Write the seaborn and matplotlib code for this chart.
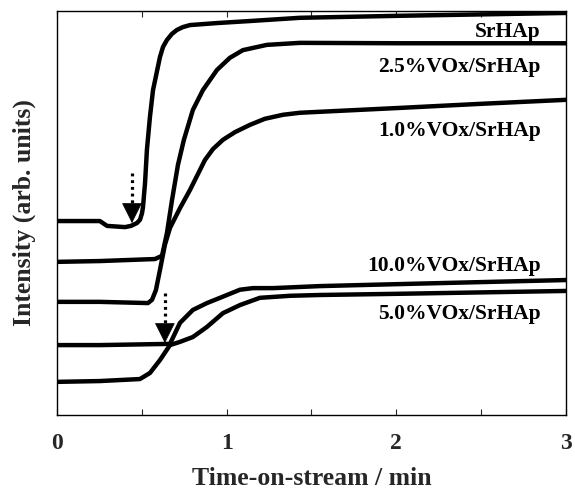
import numpy as np
import pandas as pd
import matplotlib
matplotlib.use("Agg")
import matplotlib.pyplot as plt
import seaborn as sns

# ---- data (time in min, intensity in arb. units) ----
t_srhap = [0, 0.253, 0.295, 0.401, 0.436, 0.471, 0.489, 0.501, 0.507, 0.519, 0.530,
           0.548, 0.566, 0.607, 0.625, 0.648, 0.677, 0.707, 0.742, 0.784, 0.943,
           1.137, 1.432, 2.021, 3.0]
i_srhap = [48.0, 48.0, 46.8, 46.5, 46.8, 47.5, 48.3, 49.9, 51.5, 57.4, 65.6,
           73.8, 80.4, 88.6, 91.1, 92.8, 94.3, 95.3, 96.0, 96.5, 97.0,
           97.5, 98.3, 98.8, 99.5]

t_25 = [0, 0.253, 0.578, 0.619, 0.648, 0.678, 0.713, 0.748, 0.801, 0.860, 0.943,
        1.019, 1.096, 1.237, 1.432, 2.021, 3.0]
i_25 = [37.9, 38.1, 38.6, 39.4, 45.0, 53.2, 61.9, 68.1, 75.5, 80.4, 85.4,
        88.4, 90.3, 91.6, 92.1, 92.0, 92.0]

t_10 = [0, 0.253, 0.536, 0.560, 0.583, 0.607, 0.636, 0.666, 0.725, 0.784, 0.872,
        0.919, 0.978, 1.049, 1.137, 1.225, 1.332, 1.432, 2.021, 2.493, 3.0]
i_10 = [28.0, 28.0, 27.7, 28.5, 30.9, 35.9, 42.1, 46.3, 51.2, 55.7, 63.1,
        65.8, 68.1, 70.0, 71.8, 73.3, 74.3, 74.8, 76.0, 77.0, 78.0]

t_100 = [0, 0.253, 0.666, 0.725, 0.801, 0.884, 0.961, 1.002, 1.078, 1.155, 1.273,
         1.550, 2.021, 3.0]
i_100 = [17.3, 17.3, 17.6, 22.8, 26.0, 27.7, 29.0, 29.7, 31.0, 31.4, 31.4,
         31.9, 32.4, 33.4]

t_50 = [0, 0.253, 0.489, 0.548, 0.607, 0.666, 0.725, 0.801, 0.884, 0.978, 1.078,
        1.196, 1.373, 1.550, 2.021, 3.0]
i_50 = [8.2, 8.4, 8.9, 10.4, 13.6, 17.3, 18.1, 19.3, 21.8, 25.2, 27.2,
        29.0, 29.5, 29.7, 30.0, 30.7]

series_names = ["SrHAp", "2.5%VOx/SrHAp", "1.0%VOx/SrHAp",
                "10.0%VOx/SrHAp", "5.0%VOx/SrHAp"]
label_y = [94.8, 86.2, 70.3, 36.8, 25.1]

# arrows marking onset (time, dotted-top, head-top, tip)
arrow_t = [0.442, 0.636]
arrow_top = [59.9, 30.2]
arrow_head = [52.0, 21.8]
arrow_tip = [47.5, 17.8]

xticks_major = [0, 1, 2, 3]
xticks_minor = [0.5, 1.5, 2.5]

# ---- build frame ----
frames = []
for name, t, i in zip(series_names,
                      [t_srhap, t_25, t_10, t_100, t_50],
                      [i_srhap, i_25, i_10, i_100, i_50]):
    frames.append(pd.DataFrame({"time": t, "intensity": i, "sample": name}))
df = pd.concat(frames, ignore_index=True)

sns.set_style("ticks")
plt.rcParams["font.family"] = ["Liberation Serif", "DejaVu Serif"]
plt.rcParams["font.weight"] = "bold"

fig = plt.figure(figsize=(5.75, 4.97), dpi=100)
ax = fig.add_axes([0.0991, 0.165, 0.8852, 0.813])

sns.lineplot(data=df, x="time", y="intensity", hue="sample", units="sample",
             estimator=None, sort=False, palette=["black"] * 5, legend=False,
             linewidth=3.2, ax=ax)
for ln in ax.lines:
    ln.set_solid_joinstyle("round")
    ln.set_solid_capstyle("round")

for x, top, head, tip in zip(arrow_t, arrow_top, arrow_head, arrow_tip):
    ax.plot([x, x], [top, head], color="black", linewidth=2.3,
            linestyle=(0, (0.9, 1.2)), dash_capstyle="butt")
    ax.annotate("", xy=(x, tip), xytext=(x, head),
                arrowprops=dict(arrowstyle="-|>,head_length=0.9,head_width=0.45",
                                color="black", lw=0.5, shrinkA=0, shrinkB=0,
                                mutation_scale=15))

for name, y in zip(series_names, label_y):
    ax.text(2.852, y, name, ha="right", va="center", fontsize=15.5,
            fontweight="bold", color="black")

ax.set_xlim(0, 3)
ax.set_ylim(0, 100)
ax.set_xticks(xticks_major)
ax.set_xticks(xticks_minor, minor=True)
ax.set_xticklabels([str(v) for v in xticks_major], fontsize=17, fontweight="bold")
ax.set_yticks([])
ax.tick_params(axis="x", which="both", direction="in", length=4, width=0.8,
               top=True, bottom=True, pad=13)
for s in ax.spines.values():
    s.set_visible(True)
    s.set_linewidth(1.0)
    s.set_color("black")

ax.set_xlabel("Time-on-stream / min", fontsize=18.5, fontweight="bold", labelpad=9)
ax.set_ylabel("Intensity (arb. units)", fontsize=18.5, fontweight="bold", labelpad=15)

fig.savefig("out.png", dpi=100)
